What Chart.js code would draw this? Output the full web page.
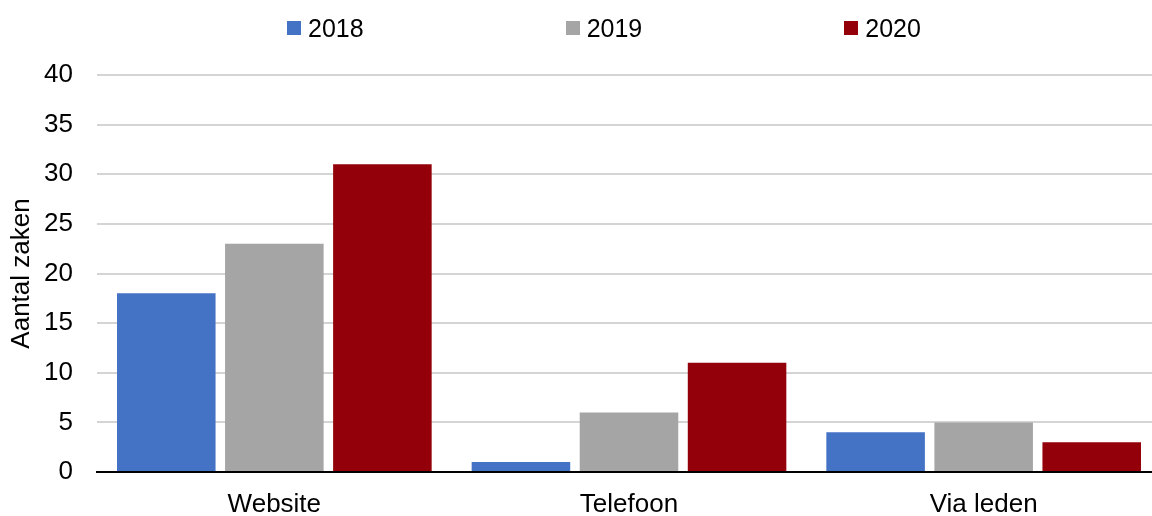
<!DOCTYPE html>
<html>
<head>
<meta charset="utf-8">
<script src="https://cdn.jsdelivr.net/npm/chart.js@4/dist/chart.umd.min.js"></script>
<style>
  html, body { margin: 0; padding: 0; background: #fff; overflow: hidden; }
  #wrap { position: relative; width: 1152px; height: 516px; overflow: hidden; }
  #chart { display: block; }
  #legend {
    position: absolute; top: 13px; left: 287px;
    display: flex; gap: 202px; line-height: 30px;
    font-family: "Liberation Sans", Arial, sans-serif; font-size: 25px; color: #000;
  }
  #legend .item { display: flex; align-items: center; }
  #legend .box { width: 14px; height: 14px; margin-right: 7px; }
</style>
</head>
<body>
<div id="wrap">
  <!-- canvas a bit wider than the window: the original plot runs past the right edge -->
  <canvas id="chart" width="1163" height="516"></canvas>
  <div id="legend"></div>
</div>
<script>
const categories = ['Website', 'Telefoon', 'Via leden'];
const years = ['2018', '2019', '2020'];
const values2018 = [18, 1, 4];
const values2019 = [23, 6, 5];
const values2020 = [31, 11, 3];
const colors = ['#4472C4', '#A5A5A5', '#940009'];

const font = "'Liberation Sans', Arial, sans-serif";
Chart.defaults.font.family = font;
Chart.defaults.color = '#000';

const series = [values2018, values2019, values2020];

const chart = new Chart(document.getElementById('chart').getContext('2d'), {
  type: 'bar',
  data: {
    labels: categories,
    datasets: series.map((vals, i) => ({
      label: years[i],
      data: vals,
      backgroundColor: colors[i],
      categoryPercentage: 0.914,
      barPercentage: 0.912
    }))
  },
  options: {
    responsive: false,
    animation: false,
    layout: { padding: { top: 75, right: 2, left: 4, bottom: 0 } },
    plugins: {
      legend: { display: false },
      tooltip: { enabled: false }
    },
    scales: {
      x: {
        grid: { display: false, drawTicks: false },
        border: { color: '#000', width: 2 },
        ticks: { font: { size: 26 }, padding: 17 },
        afterFit: (scale) => { scale.height = 44; }
      },
      y: {
        min: 0,
        max: 40,
        ticks: { stepSize: 5, font: { size: 26 }, padding: 24 },
        grid: { color: '#d4d4d4', lineWidth: 2, drawTicks: false },
        border: { display: false },
        title: { display: true, text: 'Aantal zaken', font: { size: 26 }, padding: { top: 2, bottom: 4 } },
        afterFit: (scale) => { scale.width = 93; }
      }
    }
  }
});

const legendEl = document.getElementById('legend');
chart.data.datasets.forEach(ds => {
  const item = document.createElement('div');
  item.className = 'item';
  const box = document.createElement('span');
  box.className = 'box';
  box.style.background = ds.backgroundColor;
  const txt = document.createElement('span');
  txt.textContent = ds.label;
  item.appendChild(box);
  item.appendChild(txt);
  legendEl.appendChild(item);
});
</script>
</body>
</html>
